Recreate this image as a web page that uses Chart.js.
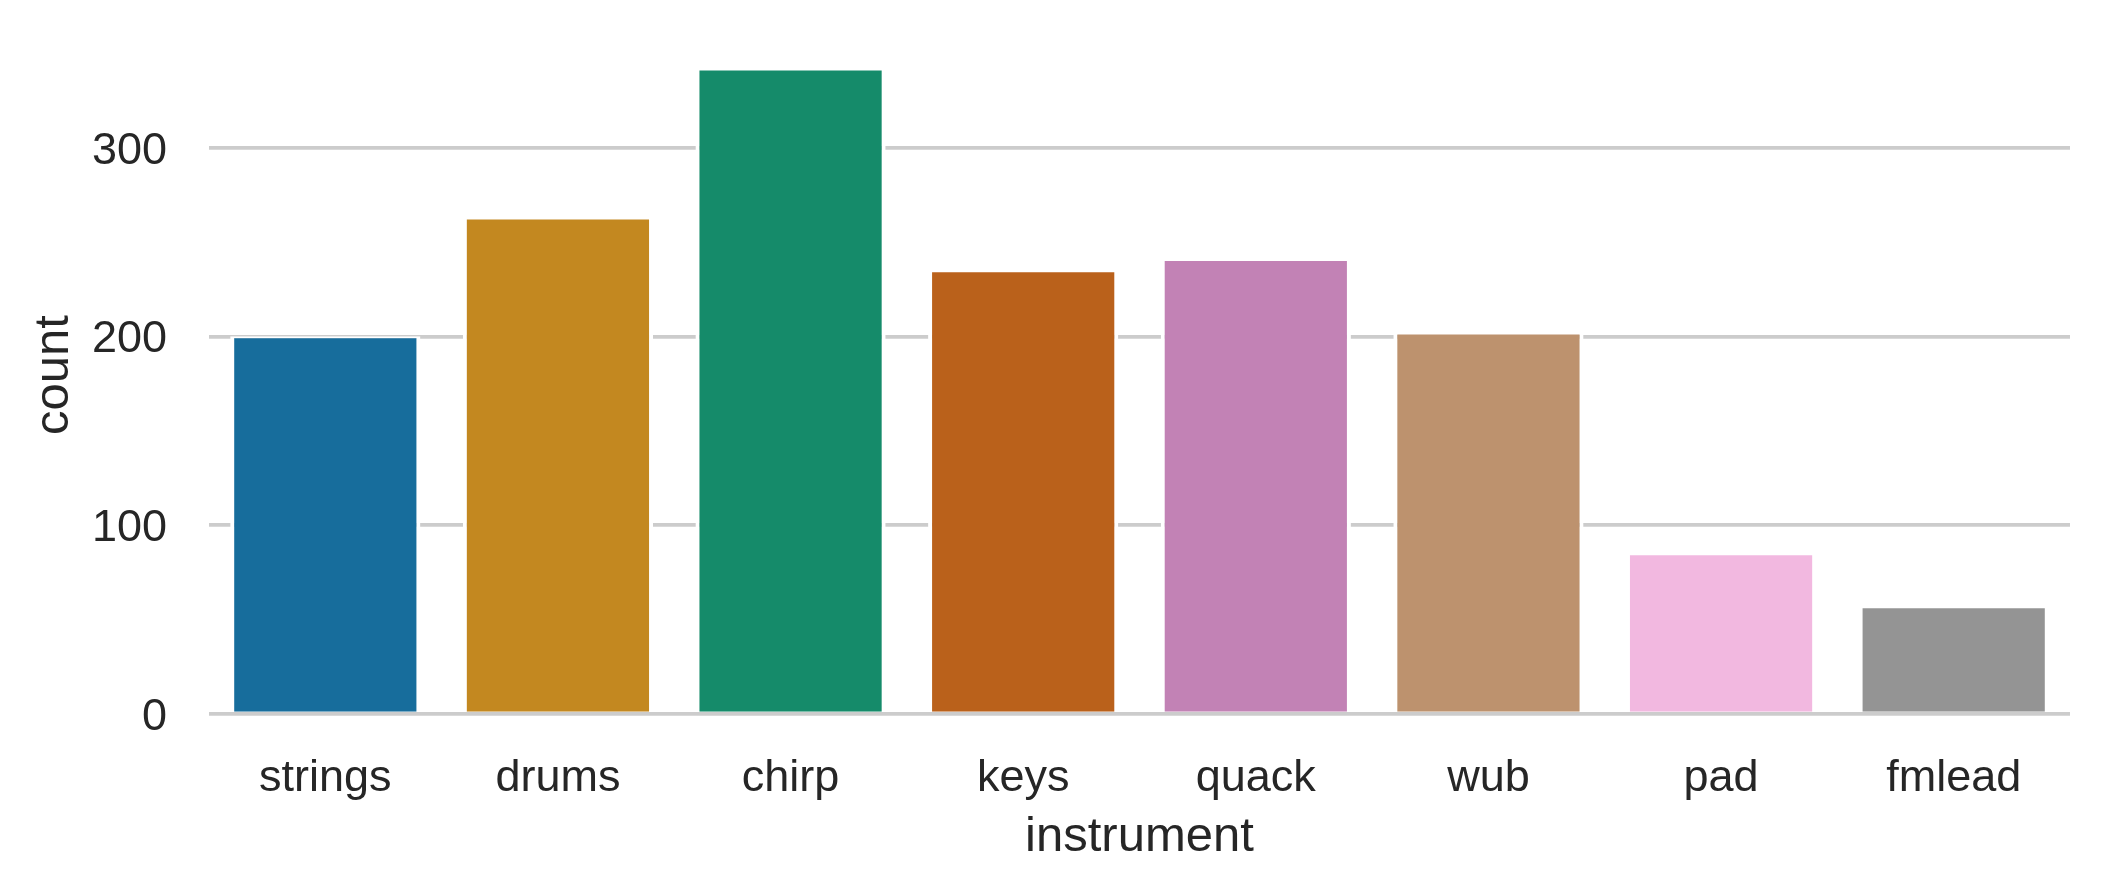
<!DOCTYPE html>
<html>
<head>
<meta charset="utf-8">
<script src="https://cdn.jsdelivr.net/npm/chart.js@4/dist/chart.umd.min.js"></script>
<style>
  html, body { margin: 0; padding: 0; background: #ffffff; }
  #wrap { width: 2104px; height: 891px; }
</style>
</head>
<body>
<div id="wrap"><canvas id="c" width="2104" height="891"></canvas></div>
<script>
// ---- data ----
const categories = ["strings", "drums", "chirp", "keys", "quack", "wub", "pad", "fmlead"];
const counts = [200, 263, 342, 235, 241, 202, 85, 57];
const yTicks = [0, 100, 200, 300];
const xLabel = "instrument";
const yLabel = "count";

// ---- style ----
const basePalette = ["#0173b2", "#de8f05", "#029e73", "#d55e00", "#cc78bc", "#ca9161", "#fbafe4", "#949494"];

function hexToRgb(h) {
  const n = parseInt(h.slice(1), 16);
  return [(n >> 16) & 255, (n >> 8) & 255, n & 255].map(v => v / 255);
}
function rgbToHls(r, g, b) {
  const mx = Math.max(r, g, b), mn = Math.min(r, g, b);
  const l = (mx + mn) / 2;
  if (mx === mn) return [0, l, 0];
  const d = mx - mn;
  const s = l <= 0.5 ? d / (mx + mn) : d / (2 - mx - mn);
  const rc = (mx - r) / d, gc = (mx - g) / d, bc = (mx - b) / d;
  let h;
  if (r === mx) h = bc - gc;
  else if (g === mx) h = 2 + rc - bc;
  else h = 4 + gc - rc;
  h = ((h / 6) % 1 + 1) % 1;
  return [h, l, s];
}
function hlsToRgb(h, l, s) {
  if (s === 0) return [l, l, l];
  const m2 = l <= 0.5 ? l * (1 + s) : l + s - l * s;
  const m1 = 2 * l - m2;
  const v = (hue) => {
    hue = ((hue % 1) + 1) % 1;
    if (hue < 1 / 6) return m1 + (m2 - m1) * hue * 6;
    if (hue < 0.5) return m2;
    if (hue < 2 / 3) return m1 + (m2 - m1) * (2 / 3 - hue) * 6;
    return m1;
  };
  return [v(h + 1 / 3), v(h), v(h - 1 / 3)];
}
function desaturate(hex, prop) {
  const [r, g, b] = hexToRgb(hex);
  const [h, l, s] = rgbToHls(r, g, b);
  const [r2, g2, b2] = hlsToRgb(h, l, s * prop);
  return `rgb(${Math.round(r2 * 255)}, ${Math.round(g2 * 255)}, ${Math.round(b2 * 255)})`;
}
const barColors = basePalette.map(c => desaturate(c, 0.75));

const W = 2104, H = 891;
const plotLeft = 209, plotRight = 2070, plotBottom = 713.7;
const yMax = Math.max(...counts) * 1.05;
const pxPerUnit = (713.7 - 147.7) / 300;
const plotTop = plotBottom - yMax * pxPerUnit;

const fontFamily = "'Liberation Sans', Arial, Helvetica, sans-serif";
const textColor = "#262626";

new Chart(document.getElementById("c"), {
  type: "bar",
  data: {
    labels: categories,
    datasets: [{
      data: counts,
      backgroundColor: barColors,
      borderColor: "#ffffff",
      borderWidth: { top: 2, left: 4, right: 4, bottom: 0 },
      borderSkipped: "start",
      categoryPercentage: 1.0,
      barPercentage: 0.8177
    }]
  },
  options: {
    responsive: false,
    animation: false,
    devicePixelRatio: 1,
    layout: { padding: { top: plotTop, right: W - plotRight, bottom: 0, left: 0 } },
    plugins: { legend: { display: false }, tooltip: { enabled: false } },
    scales: {
      x: {
        grid: { display: false, drawTicks: false },
        border: { display: false },
        ticks: {
          color: textColor,
          font: { family: fontFamily, size: 45 },
          padding: 38,
          maxRotation: 0,
          autoSkip: false
        },
        title: {
          display: true,
          text: xLabel,
          color: textColor,
          font: { family: fontFamily, size: 49 },
          padding: { top: 0, bottom: 24 }
        },
        afterFit: (s) => { s.height = H - plotBottom; s.paddingLeft = 0; s.paddingRight = 0; }
      },
      y: {
        min: 0,
        max: yMax,
        grid: { color: "#cccccc", lineWidth: 3.7, drawTicks: false },
        border: { display: false },
        ticks: {
          color: textColor,
          font: { family: fontFamily, size: 45 },
          padding: 42,
          labelOffset: 3.5,
          stepSize: 100,
          includeBounds: false
        },
        afterBuildTicks: (s) => { s.ticks = yTicks.map(v => ({ value: v })); },
        title: {
          display: true,
          text: yLabel,
          color: textColor,
          font: { family: fontFamily, size: 49 },
          padding: { top: 25, bottom: 0 }
        },
        afterFit: (s) => { s.width = plotLeft; s.paddingTop = 0; s.paddingBottom = 0; }
      }
    }
  }
});
</script>
</body>
</html>
